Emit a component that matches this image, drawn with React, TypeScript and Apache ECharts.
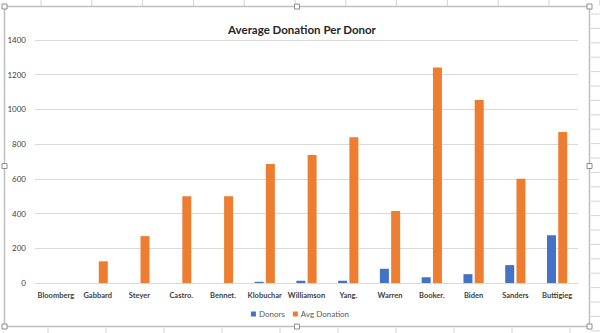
import React, { useEffect, useRef } from "react";
import * as echarts from "echarts";

const categories = ["Bloomberg", "Gabbard", "Steyer", "Castro.", "Bennet.", "Klobuchar", "Williamson", "Yang.", "Warren", "Booker.", "Biden", "Sanders", "Buttigieg"];
const donors = [0, 0, 0, 0, 0, 7, 13, 13, 82, 33, 51, 103, 275];
const avgDonation = [0, 125, 270, 500, 500, 685, 737, 840, 415, 1242, 1054, 600, 870];
const yTicks = [0, 200, 400, 600, 800, 1000, 1200, 1400];

export default function App() {
  const ref = useRef<HTMLDivElement>(null);
  useEffect(() => {
    if (!ref.current) return;
    const chart = echarts.init(ref.current, null, { renderer: "svg" });
    const gridColor = "#d9d9d9";
    const deco: any[] = [];
    // spreadsheet cells outside the chart
    for (let x = 41; x < 600; x += 50.8) {
      deco.push({ type: "line", shape: { x1: x, y1: 0, x2: x, y2: 6 }, style: { stroke: "#d4d4d4", lineWidth: 1 } });
    }
    for (let x = 48; x < 600; x += 58) {
      deco.push({ type: "line", shape: { x1: x, y1: 328, x2: x, y2: 333 }, style: { stroke: "#d4d4d4", lineWidth: 1 } });
    }
    for (let y = 14; y < 333; y += 14.4) {
      deco.push({ type: "line", shape: { x1: 591, y1: y, x2: 600, y2: y }, style: { stroke: "#d4d4d4", lineWidth: 1 } });
    }
    deco.push({ type: "rect", shape: { x: 4.5, y: 6.5, width: 585, height: 320 }, style: { fill: "none", stroke: "#bfbfbf", lineWidth: 1.5 } });
    const handles = [[4.5, 6.5], [297, 6.5], [589.5, 6.5], [4.5, 166], [589.5, 166], [4.5, 326.5], [297, 326.5], [589.5, 326.5]];
    handles.forEach(([hx, hy]) => {
      deco.push({ type: "rect", shape: { x: hx - 2.5, y: hy - 2.5, width: 5, height: 5 }, style: { fill: "#ffffff", stroke: "#8c8c8c", lineWidth: 1 } });
    });
    chart.setOption({
      animation: false,
      backgroundColor: "#ffffff",
      title: {
        text: "Average Donation Per Donor",
        left: 297,
        textAlign: "center",
        top: 18,
        textStyle: { fontFamily: "Lato", fontSize: 11.5, fontWeight: "bold", color: "#262626" },
      },
      grid: { left: 35, right: 22, top: 40, bottom: 50 },
      legend: {
        data: ["Donors", "Avg Donation"],
        left: "center",
        top: 305,
        itemWidth: 5,
        itemHeight: 5,
        itemGap: 8,
        textStyle: { fontFamily: "Lato", fontSize: 8, color: "#595959", padding: [0, 0, 0, -2] },
        icon: "rect",
      },
      xAxis: {
        type: "category",
        data: categories,
        axisLine: { lineStyle: { color: gridColor } },
        axisTick: { show: false },
        axisLabel: { fontFamily: "Lato", fontSize: 7.5, fontWeight: "bold", color: "#404040", margin: 8, interval: 0 },
      },
      yAxis: {
        type: "value",
        min: 0,
        max: 1400,
        interval: 200,
        axisLine: { show: false },
        axisTick: { show: false },
        axisLabel: { fontFamily: "Lato", fontSize: 8, color: "#404040", margin: 9, formatter: (v: number) => (yTicks.includes(v) ? String(v) : "") },
        splitLine: { lineStyle: { color: gridColor, width: 1 } },
      },
      series: [
        { name: "Donors", type: "bar", data: donors, barWidth: 9, barGap: "25%", itemStyle: { color: "#4472c4" } },
        { name: "Avg Donation", type: "bar", data: avgDonation, barWidth: 9, itemStyle: { color: "#ed7d31" } },
      ],
      graphic: deco,
    });
    return () => chart.dispose();
  }, []);
  return <div ref={ref} style={{ position: "fixed", left: 0, top: 0, width: 600, height: 333 }} />;
}
